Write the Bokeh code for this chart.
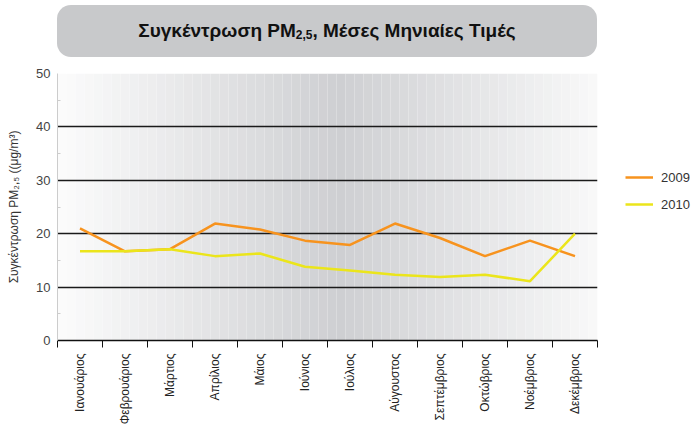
import math
from bokeh.plotting import figure
from bokeh.models import (Range1d, LinearAxis, FixedTicker,
                          BoxAnnotation, Legend, LegendItem, Div, Grid)
from bokeh.layouts import column
from bokeh.embed import file_html
from bokeh.resources import INLINE

months = ["Ιανουάριος", "Φεβρουάριος", "Μάρτιος", "Απρίλιος", "Μάιος", "Ιούνιος",
          "Ιούλιος", "Αύγουστος", "Σεπτέμβριος", "Οκτώβριος", "Νοέμβριος", "Δεκέμβριος"]
pm_2009 = [21.0, 16.7, 17.1, 21.9, 20.8, 18.7, 17.9, 21.9, 19.2, 15.8, 18.7, 15.8]
pm_2010 = [16.7, 16.7, 17.1, 15.8, 16.3, 13.8, 13.1, 12.3, 11.9, 12.3, 11.1, 20.0]
y_ticks = [0, 10, 20, 30, 40, 50]
y_minor = [5, 15, 25, 35, 45]
series_names = ["2009", "2010"]

FONT = "Liberation Sans"
nm = len(months)
xpos = [i + 0.5 for i in range(nm)]

p = figure(x_range=Range1d(0, nm), y_range=Range1d(0, 50),
           frame_width=540, frame_height=267, x_axis_type=None, y_axis_type=None,
           output_backend="svg", toolbar_location=None,
           min_border_left=57, min_border_right=0, min_border_top=14, min_border_bottom=0)
p.outline_line_color = None
p.background_fill_color = "white"

# gradient background
n = 60
light = (252, 252, 252)
dark = (206, 207, 210)
for i in range(n):
    t = (i + 0.5) / n
    f = 1 - abs(2 * t - 1.04) / 1.04
    f = max(0.0, min(1.0, f))
    c = tuple(int(round(light[k] + (dark[k] - light[k]) * f)) for k in range(3))
    w = nm / n
    p.add_layout(BoxAnnotation(left=i * w, right=(i + 1) * w,
                               fill_color="#%02x%02x%02x" % c, fill_alpha=1,
                               line_color=None, level="underlay"))

# y axis
yax = LinearAxis(ticker=FixedTicker(ticks=y_ticks, minor_ticks=y_minor))
yax.axis_line_color = "#cccccc"
yax.major_tick_out = 0
yax.major_tick_in = 0
yax.minor_tick_in = 3
yax.minor_tick_out = 0
yax.minor_tick_line_color = "#cccccc"
yax.major_label_text_font = FONT
yax.major_label_text_font_size = "13px"
yax.major_label_text_color = "#444444"
yax.major_label_standoff = 7
yax.axis_label = "Συγκέντρωση PM₂,₅ ((μg/m³)"
yax.axis_label_text_font = FONT
yax.axis_label_text_font_size = "12px"
yax.axis_label_text_font_style = "normal"
yax.axis_label_text_color = "#333333"
yax.axis_label_standoff = 12
p.add_layout(yax, "left")

# x axis: labels at month centres, tick marks at month boundaries
xax = LinearAxis(ticker=FixedTicker(ticks=xpos, minor_ticks=list(range(nm + 1))))
xax.major_label_overrides = {x: m for x, m in zip(xpos, months)}
xax.axis_line_color = "#111111"
xax.axis_line_width = 1.5
xax.major_tick_line_color = None
xax.minor_tick_out = 7
xax.minor_tick_in = 0
xax.minor_tick_line_color = "#111111"
xax.major_label_orientation = math.pi / 2
xax.major_label_text_font = FONT
xax.major_label_text_font_size = "12px"
xax.major_label_text_color = "#222222"
xax.major_label_standoff = 6
p.add_layout(xax, "below")

g = Grid(dimension=1, ticker=FixedTicker(ticks=y_ticks[1:]), grid_line_color="#1a1a1a",
         grid_line_width=1.5)
p.add_layout(g)

r1 = p.line(xpos, pm_2009, line_color="#f7931e", line_width=2.5)
r2 = p.line(xpos, pm_2010, line_color="#ebe51b", line_width=2.5)

legend = Legend(items=[LegendItem(label=series_names[0], renderers=[r1]),
                       LegendItem(label=series_names[1], renderers=[r2])],
                location=(28, 126), padding=0, margin=0, spacing=7,
                glyph_width=28, glyph_height=20, label_standoff=8,
                label_text_font=FONT, label_text_font_size="13px",
                label_text_color="#333333",
                border_line_color=None, background_fill_alpha=0)
p.add_layout(legend, "right")

title = Div(text=(
    '<div style="width:540px;height:52px;background:#c8c9cb;border-radius:14px;'
    'display:flex;align-items:center;justify-content:center;'
    'font-family:\'Liberation Sans Narrow\',\'Liberation Sans\',sans-serif;'
    'font-weight:bold;font-size:19px;color:#111;">'
    'Συγκέντρωση PM<span style="font-size:12px;position:relative;top:5px">2,5</span>'
    ', Μέσες Μηνιαίες Τιμές</div>'),
    width=540, height=52, margin=(5, 0, 2, 57))

layout = column(title, p, spacing=0)
open("out.html", "w").write(file_html(layout, INLINE))
